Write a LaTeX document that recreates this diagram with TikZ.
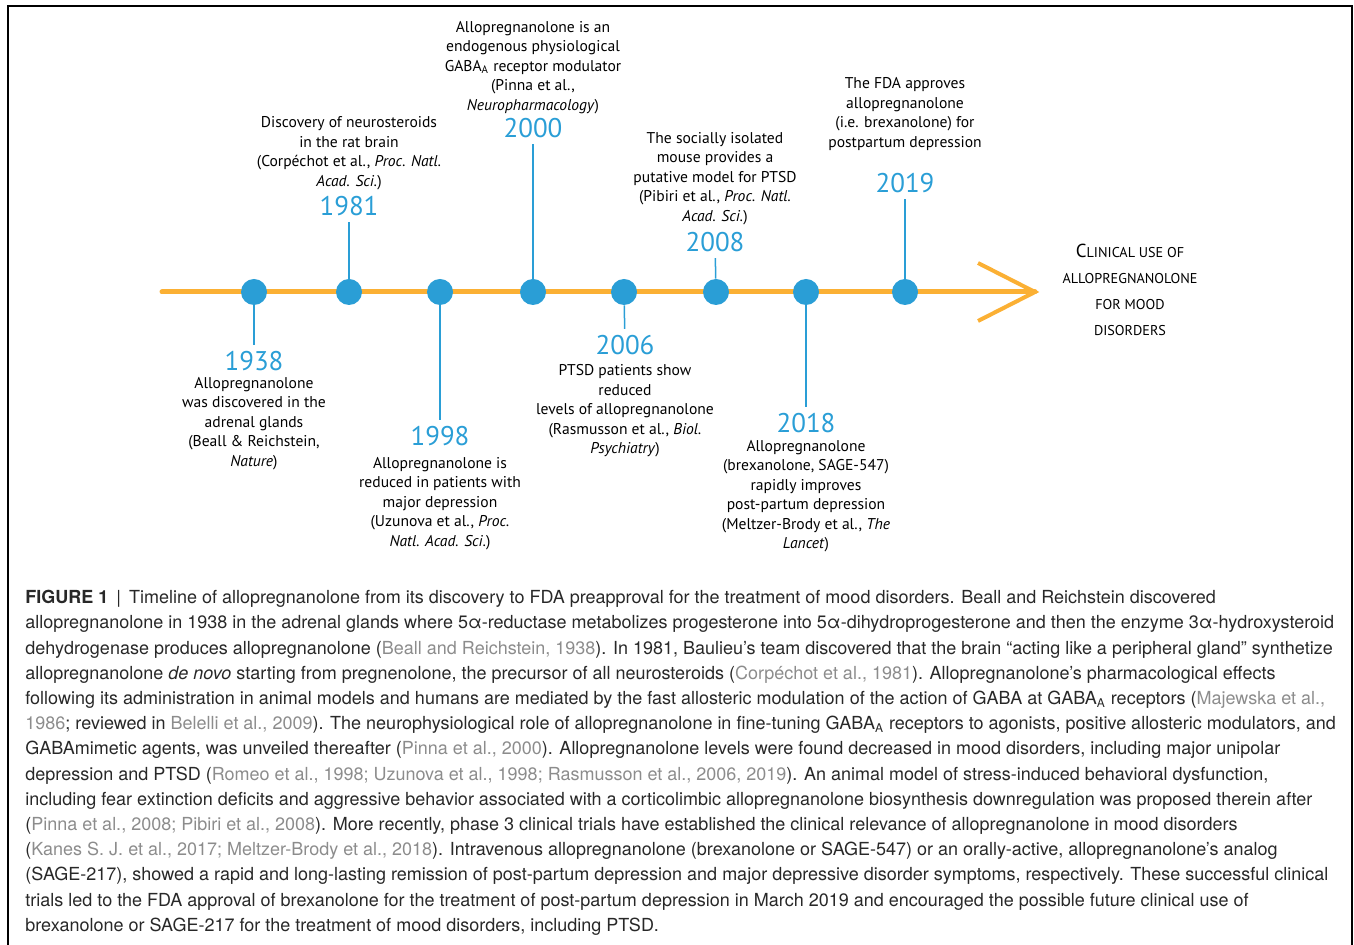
\documentclass[tikz,border=0pt]{standalone}
\usepackage{fontspec}
\setmainfont{TeX Gyre Heros}
\newfontfamily\tlfont{PT Sans}
\usepackage{tkz-euclide}
\usetikzlibrary{calc}
\definecolor{tlblue}{RGB}{42,158,214}
\definecolor{tlorange}{RGB}{251,176,52}
\definecolor{capgray}{RGB}{140,140,140}
\definecolor{captext}{RGB}{40,40,40}
\newcommand{\cit}[1]{\textcolor{capgray}{#1}}

\begin{document}
\begin{tikzpicture}[x=0.5pt,y=-0.5pt,
    dot/.style={circle,fill=tlblue,inner sep=0pt,minimum size=13pt},
    stem/.style={tlblue,line width=0.75pt},
    year/.style={text=tlblue,font=\tlfont\fontsize{13.5}{14}\selectfont,inner sep=3pt},
    event/.style={align=center,font=\tlfont\fontsize{7.8}{9.75}\selectfont,inner sep=0pt},
    ]
                \useasboundingbox (0,0) rectangle (1354,945);
                \draw[line width=0.8pt] (8,945) -- (8,6) -- (1352,6) -- (1352,945);

                % time axis with open arrow head
                \tkzDefPoint(162,292){S}
                \tkzDefPoint(1035,292){E}
                \tkzDefPoint(978,263){U}
                \tkzDefPoint(978,321){L}
                \tkzDrawSegment[tlorange,line width=2.5pt](S,E)
                \draw[tlorange,line width=2pt,line join=miter] (U) -- (E) -- (L);

                \foreach \yr/\x in {1938/254,1981/349,1998/440,2000/533,2006/624,2008/716,2018/806,2019/905}
                    \node[dot] (d\yr) at (\x,292) {};

                \node[year] (y1938) at (254,361) {1938};
                \node[year] (y1981) at (349,206) {1981};
                \node[year] (y1998) at (440,436) {1998};
                \node[year] (y2000) at (533,128) {2000};
                \node[year] (y2006) at (625,345) {2006};
                \node[year] (y2008) at (715,242) {2008};
                \node[year] (y2018) at (806,423) {2018};
                \node[year] (y2019) at (905,183) {2019};

                \foreach \yr in {1938,1981,1998,2000,2006,2008,2018,2019}
                    \draw[stem] (d\yr) -- (y\yr);

                \node[event,anchor=north] (t1938) at (254,377)
                    {Allopregnanolone\\was discovered in the\\adrenal glands\\(Beall \& Reichstein,\\\textit{Nature})};
                \node[event,anchor=south] (t1981) at (349,190)
                    {Discovery of neurosteroids\\in the rat brain\\(Corpéchot et al., \textit{Proc. Natl.}\\\textit{Acad. Sci.})};
                \node[event,anchor=north] (t1998) at (440,457)
                    {Allopregnanolone is\\reduced in patients with\\major depression\\(Uzunova et al., \textit{Proc.}\\\textit{Natl. Acad. Sci.})};
                \node[event,anchor=south] (t2000) at (533,114)
                    {Allopregnanolone is an\\endogenous physiological\\GABA\textsubscript{A} receptor modulator\\(Pinna et al.,\\\textit{Neuropharmacology})};
                \node[event,anchor=north] (t2006) at (625,364)
                    {PTSD patients show\\reduced\\levels of allopregnanolone\\(Rasmusson et al., \textit{Biol.}\\\textit{Psychiatry})};
                \node[event,anchor=south] (t2008) at (715,225)
                    {The socially isolated\\mouse provides a\\putative model for PTSD\\(Pibiri et al., \textit{Proc. Natl.}\\\textit{Acad. Sci.})};
                \node[event,anchor=north] (t2018) at (806,440)
                    {Allopregnanolone\\(brexanolone, SAGE-547)\\rapidly improves\\post-partum depression\\(Meltzer-Brody et al., \textit{The}\\\textit{Lancet})};
                \node[event,anchor=south] (t2019) at (905,151)
                    {The FDA approves\\allopregnanolone\\(i.e. brexanolone) for\\postpartum depression};

                \node[align=center,inner sep=0pt,font=\tlfont\fontsize{7.1}{13}\selectfont] (goal) at (1130,290)
                    {{\fontsize{9.4}{13}\selectfont C}LINICAL USE OF\\ALLOPREGNANOLONE\\FOR MOOD\\DISORDERS};

                % figure legend
                \node[anchor=north west,align=left,inner sep=0pt,text=captext,font=\fontsize{9}{12.6}\selectfont] (legend) at (25,590)
                    {\textbf{FIGURE 1} \,|\, Timeline of allopregnanolone from its discovery to FDA preapproval for the treatment of mood disorders. Beall and Reichstein discovered\\
                    allopregnanolone in 1938 in the adrenal glands where 5α-reductase metabolizes progesterone into 5α-dihydroprogesterone and then the enzyme 3α-hydroxysteroid\\
                    dehydrogenase produces allopregnanolone (\cit{Beall and Reichstein, 1938}). In 1981, Baulieu’s team discovered that the brain “acting like a peripheral gland” synthetize\\
                    allopregnanolone \textit{de novo} starting from pregnenolone, the precursor of all neurosteroids (\cit{Corpéchot et al., 1981}). Allopregnanolone’s pharmacological effects\\
                    following its administration in animal models and humans are mediated by the fast allosteric modulation of the action of GABA at GABA\textsubscript{A} receptors (\cit{Majewska et al.,}\\
                    \cit{1986}; reviewed in \cit{Belelli et al., 2009}). The neurophysiological role of allopregnanolone in fine-tuning GABA\textsubscript{A} receptors to agonists, positive allosteric modulators, and\\
                    GABAmimetic agents, was unveiled thereafter (\cit{Pinna et al., 2000}). Allopregnanolone levels were found decreased in mood disorders, including major unipolar\\
                    depression and PTSD (\cit{Romeo et al., 1998; Uzunova et al., 1998; Rasmusson et al., 2006, 2019}). An animal model of stress-induced behavioral dysfunction,\\
                    including fear extinction deficits and aggressive behavior associated with a corticolimbic allopregnanolone biosynthesis downregulation was proposed therein after\\
                    (\cit{Pinna et al., 2008; Pibiri et al., 2008}). More recently, phase 3 clinical trials have established the clinical relevance of allopregnanolone in mood disorders\\
                    (\cit{Kanes S. J. et al., 2017; Meltzer-Brody et al., 2018}). Intravenous allopregnanolone (brexanolone or SAGE-547) or an orally-active, allopregnanolone’s analog\\
                    (SAGE-217), showed a rapid and long-lasting remission of post-partum depression and major depressive disorder symptoms, respectively. These successful clinical\\
                    trials led to the FDA approval of brexanolone for the treatment of post-partum depression in March 2019 and encouraged the possible future clinical use of\\
                    brexanolone or SAGE-217 for the treatment of mood disorders, including PTSD.};
\end{tikzpicture}
\end{document}
